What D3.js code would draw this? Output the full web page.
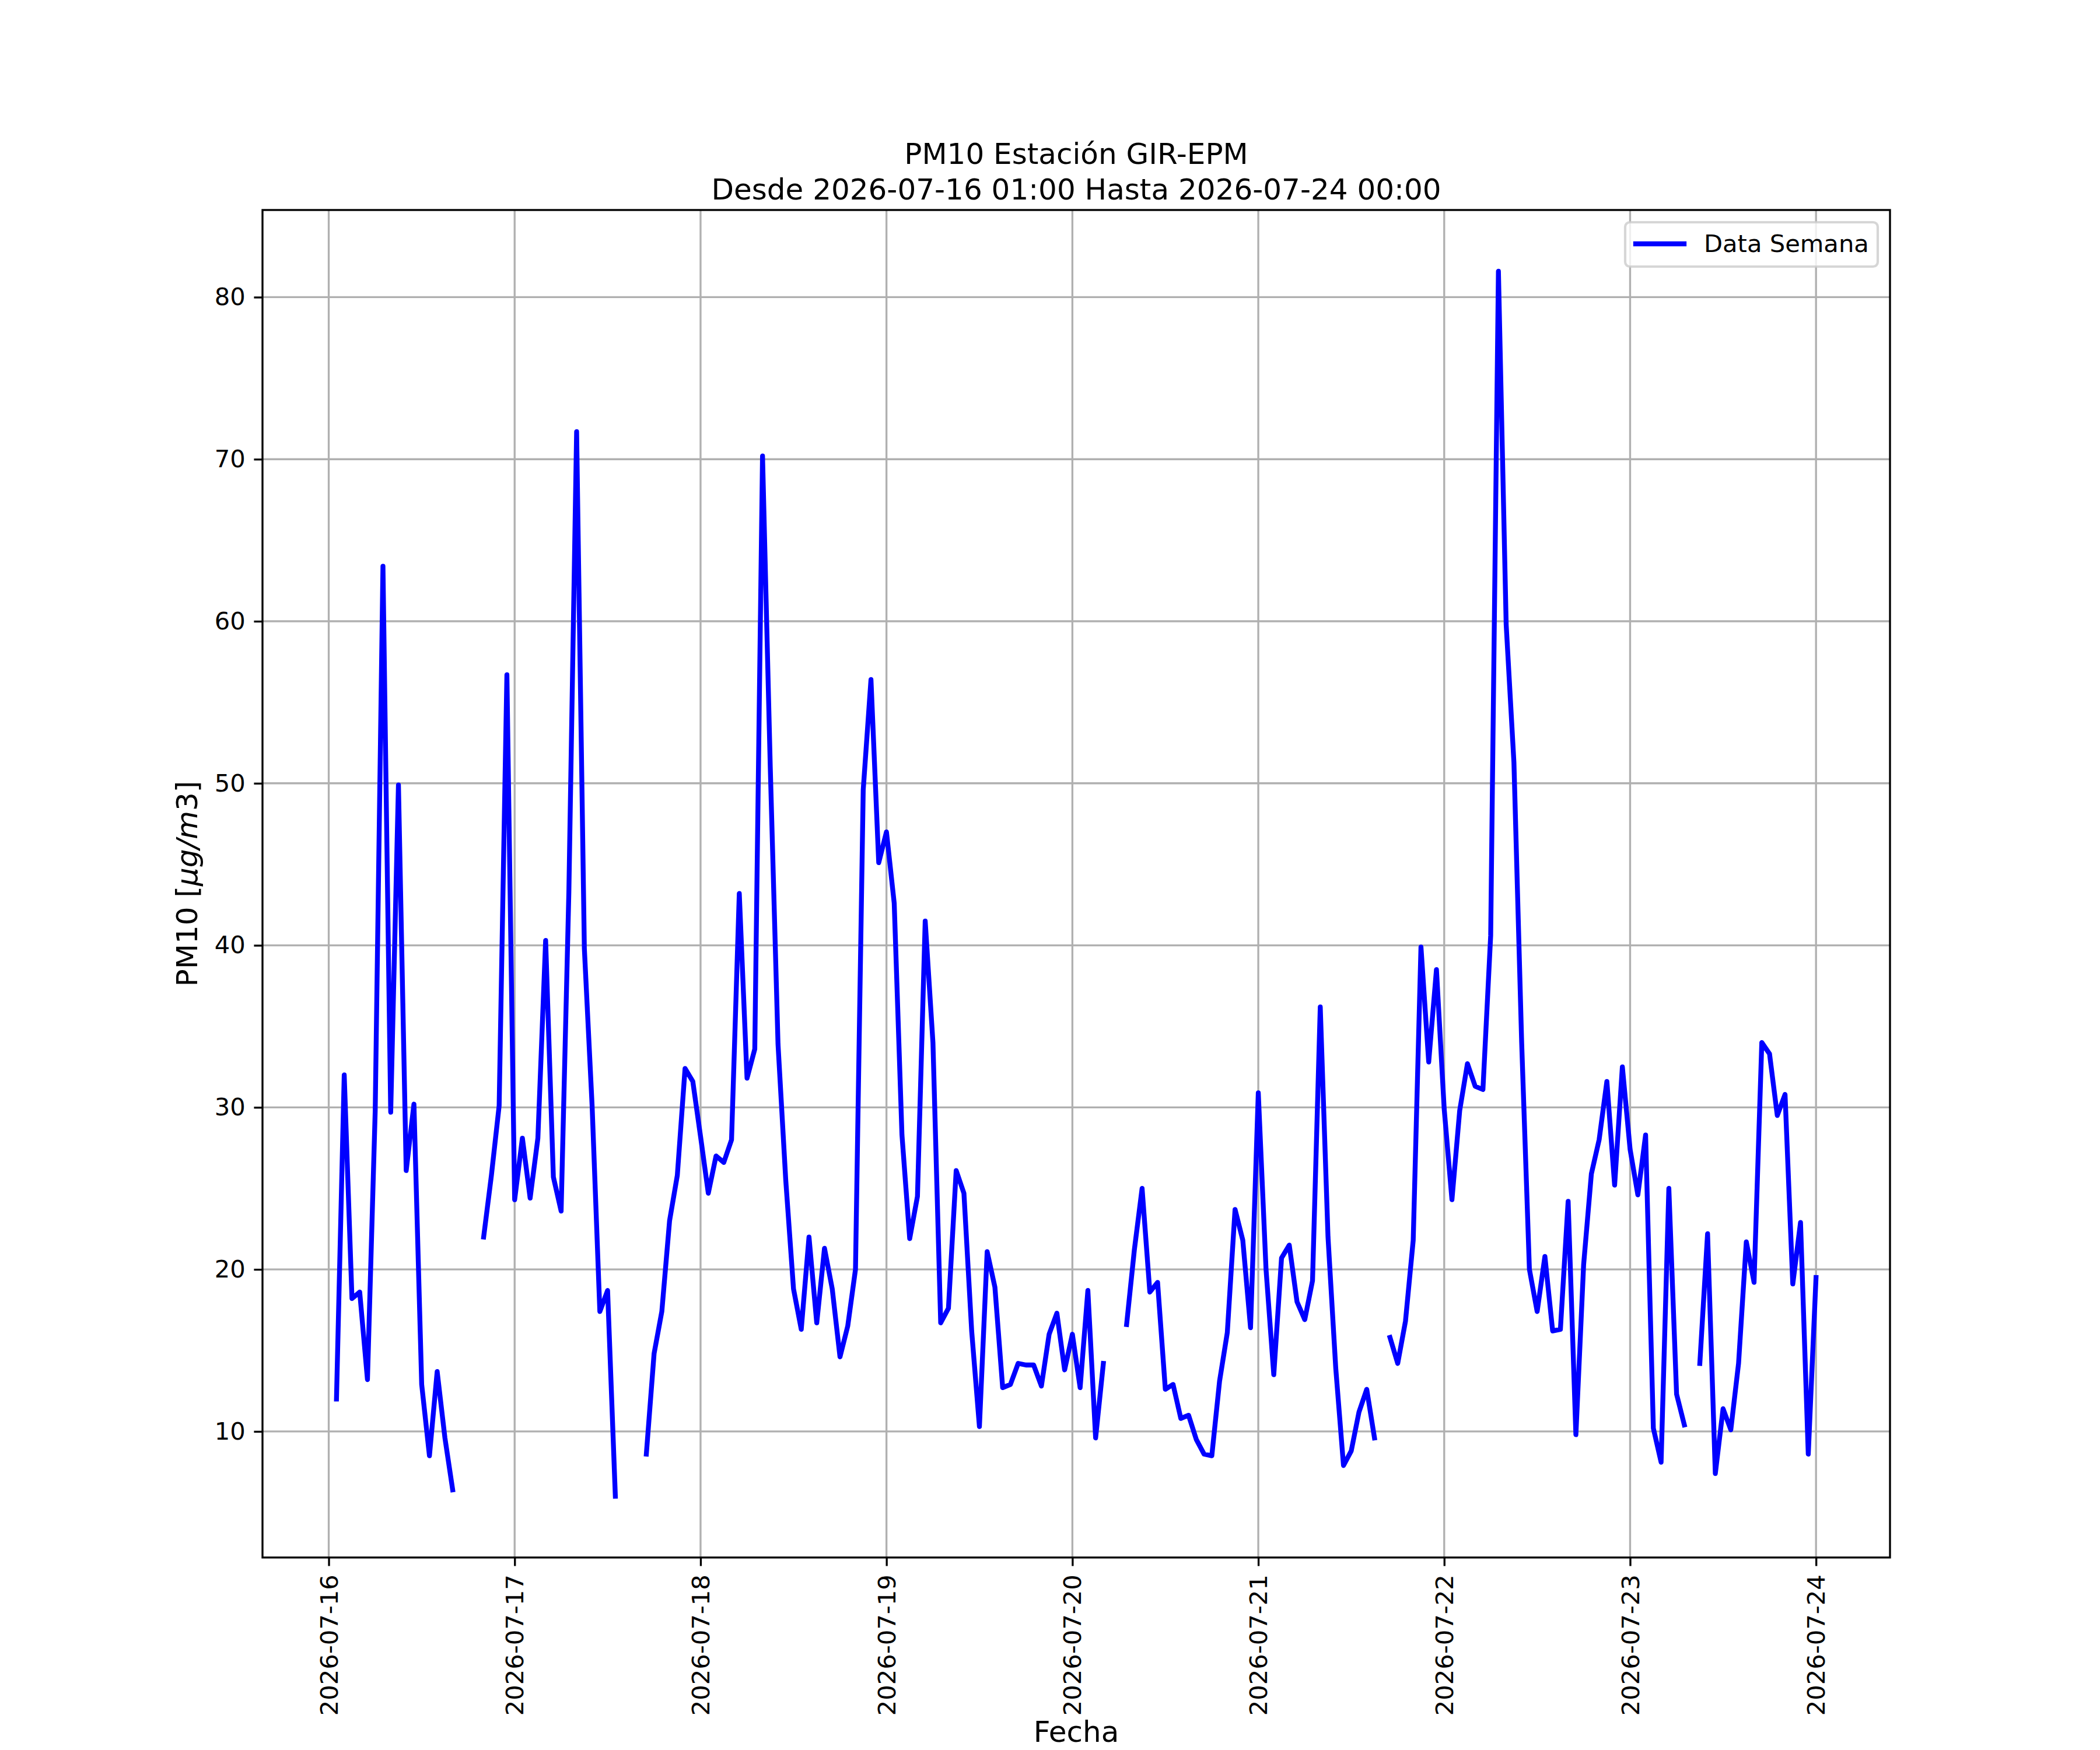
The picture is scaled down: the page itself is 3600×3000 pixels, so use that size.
<!DOCTYPE html>
<html>
<head>
<meta charset="utf-8">
<script src="https://cdn.jsdelivr.net/npm/d3@7"></script>
<style>
  body { margin: 0; background: #fff; }
  text { font-family: "DejaVu Sans", sans-serif; fill: #000; }
</style>
</head>
<body>
<svg class="chart"></svg>
<script>
// hourly PM10 readings, 2026-07-16 01:00 .. 2026-07-24 00:00 (null = no data)
const startTime = Date.UTC(2026, 6, 16, 1)
const endTime = Date.UTC(2026, 6, 24, 0)
const pm10 = [
  12.0, 32.0, 18.2, 18.6, 13.2, 29.8, 63.4, 29.7, 49.9, 26.1, 30.2, 12.9, 8.5, 13.7, 9.6, 6.4,
  null, null, null, 22.0, 25.8, 30.1, 56.7, 24.3,
  28.1, 24.4, 28.1, 40.3, 25.7, 23.6, 43.3, 71.7, 39.8, 30.1, 17.4, 18.7, 6.0,
  null, null, null, 8.6, 14.8, 17.4, 23.0, 25.8, 32.4, 31.6, 28.2,
  24.7, 27.0, 26.6, 28.0, 43.2, 31.8, 33.6, 70.2, 51.0, 33.9, 25.5, 18.8,
  16.3, 22.0, 16.7, 21.3, 18.8, 14.6, 16.5, 20.0, 49.6, 56.4, 45.1, 47.0,
  42.6, 28.3, 21.9, 24.5, 41.5, 34.0, 16.7, 17.6, 26.1, 24.7, 16.2, 10.3,
  21.1, 18.9, 12.7, 12.9, 14.2, 14.1, 14.1, 12.8, 16.0, 17.3, 13.8, 16.0,
  12.7, 18.7, 9.6, 14.2, null, null, 16.6, 21.2, 25.0, 18.6, 19.2, 12.6,
  12.9, 10.8, 11.0, 9.5, 8.6, 8.5, 13.1, 16.1, 23.7, 21.8, 16.4, 30.9,
  20.0, 13.5, 20.7, 21.5, 18.0, 16.9, 19.3, 36.2, 22.0, 13.9, 7.9, 8.8,
  11.2, 12.6, 9.6, null, 15.8, 14.2, 16.8, 21.8, 39.9, 32.8, 38.5, 29.9,
  24.3, 29.8, 32.7, 31.3, 31.1, 40.6, 81.6, 59.8, 51.3, 34.0, 20.0, 17.4,
  20.8, 16.2, 16.3, 24.2, 9.8, 20.3, 25.9, 28.0, 31.6, 25.2, 32.5, 27.4,
  24.6, 28.3, 10.2, 8.1, 25.0, 12.3, 10.4, null, 14.2, 22.2, 7.4, 11.4,
  10.1, 14.2, 21.7, 19.2, 34.0, 33.3, 29.5, 30.8, 19.1, 22.9, 8.6, 19.5
]
const dayTicks = ['2026-07-16', '2026-07-17', '2026-07-18', '2026-07-19', '2026-07-20',
                  '2026-07-21', '2026-07-22', '2026-07-23', '2026-07-24']
const yTicks = [10, 20, 30, 40, 50, 60, 70, 80]
const titleLines = ['PM10 Estación GIR-EPM', 'Desde 2026-07-16 01:00 Hasta 2026-07-24 00:00']
const legendLabel = 'Data Semana'

const times = d3.utcHour.range(startTime, endTime + 1)
const data = times.map((t, i) => ({t: t, v: pm10[i]}))

let width = 3600,
    height = 3000,
    plotL = 450, plotR = 3240, plotT = 360, plotB = 2670,
    pt = 300 / 72

// matplotlib style 5% margins
let xExt = d3.extent(times),
    xPad = (xExt[1] - xExt[0]) * 0.05
let yExt = d3.extent(pm10.filter((v) => v != null)),
    yPad = (yExt[1] - yExt[0]) * 0.05

let x = d3.scaleUtc()
    .domain([new Date(+xExt[0] - xPad), new Date(+xExt[1] + xPad)])
    .range([plotL, plotR])
let y = d3.scaleLinear()
    .domain([yExt[0] - yPad, yExt[1] + yPad])
    .range([plotB, plotT])

let dayDates = dayTicks.map((s) => new Date(s + 'T00:00:00Z'))

let svg = d3.select('.chart')
    .attr('width', width)
    .attr('height', height)

svg.append('rect').attr('width', width).attr('height', height).attr('fill', '#fff')

// grid
let grid = svg.append('g')
grid.selectAll('.vg').data(dayDates)
  .enter().append('line')
    .attr('x1', (d) => x(d)).attr('x2', (d) => x(d))
    .attr('y1', plotT).attr('y2', plotB)
    .attr('stroke', '#b0b0b0').attr('stroke-width', 0.8 * pt)
grid.selectAll('.hg').data(yTicks)
  .enter().append('line')
    .attr('x1', plotL).attr('x2', plotR)
    .attr('y1', (d) => y(d)).attr('y2', (d) => y(d))
    .attr('stroke', '#b0b0b0').attr('stroke-width', 0.8 * pt)

// series
let line = d3.line()
    .defined((d) => d.v != null)
    .x((d) => x(d.t))
    .y((d) => y(d.v))

svg.append('clipPath').attr('id', 'clip')
  .append('rect').attr('x', plotL).attr('y', plotT)
    .attr('width', plotR - plotL).attr('height', plotB - plotT)

svg.append('path')
    .datum(data)
    .attr('clip-path', 'url(#clip)')
    .attr('d', line)
    .attr('fill', 'none')
    .attr('stroke', '#0000ff')
    .attr('stroke-width', 2 * pt)
    .attr('stroke-linejoin', 'round')
    .attr('stroke-linecap', 'square')

// axes
let tickLen = 3.5 * pt,
    tickPad = 3.5 * pt,
    tickFont = 10 * pt

let xAxis = svg.append('g')
    .attr('transform', `translate(0,${plotB})`)
    .call(d3.axisBottom(x)
        .tickValues(dayDates)
        .tickFormat((d, i) => dayTicks[i])
        .tickSize(tickLen)
        .tickSizeOuter(0))
xAxis.selectAll('.tick text')
    .attr('y', 0)
    .attr('x', -(tickLen + tickPad))
    .attr('dy', '0.35em')
    .attr('transform', 'rotate(-90)')
    .style('text-anchor', 'end')

let yAxis = svg.append('g')
    .attr('transform', `translate(${plotL},0)`)
    .call(d3.axisLeft(y)
        .tickValues(yTicks)
        .tickFormat(d3.format('d'))
        .tickSize(tickLen)
        .tickPadding(tickPad)
        .tickSizeOuter(0))

svg.selectAll('.domain').remove()
svg.selectAll('.tick line').attr('stroke', '#000').attr('stroke-width', 0.8 * pt)
svg.selectAll('.tick text')
    .attr('font-family', 'DejaVu Sans')
    .attr('font-size', tickFont)
    .attr('fill', '#000')

// frame
svg.append('rect')
    .attr('x', plotL).attr('y', plotT)
    .attr('width', plotR - plotL).attr('height', plotB - plotT)
    .attr('fill', 'none')
    .attr('stroke', '#000')
    .attr('stroke-width', 0.8 * pt)

// titles and labels
let mid = (plotL + plotR) / 2
svg.selectAll('.title').data(titleLines)
  .enter().append('text')
    .attr('x', mid)
    .attr('y', (d, i) => 281 + i * 61)
    .attr('text-anchor', 'middle')
    .attr('font-size', 12 * pt)
    .text((d) => d)

svg.append('text')
    .attr('x', mid).attr('y', 2986)
    .attr('text-anchor', 'middle')
    .attr('font-size', 12 * pt)
    .text('Fecha')

let yLabel = svg.append('text')
    .attr('transform', `translate(338,${(plotT + plotB) / 2}) rotate(-90)`)
    .attr('text-anchor', 'middle')
    .attr('font-size', 12 * pt)
yLabel.append('tspan').text('PM10 [')
yLabel.append('tspan').attr('font-style', 'italic').text('μg/m')
yLabel.append('tspan').text('3]')

// legend
let lg = svg.append('g')
lg.append('rect')
    .attr('x', 2786).attr('y', 381)
    .attr('width', 433).attr('height', 76)
    .attr('rx', 8).attr('ry', 8)
    .attr('fill', '#fff').attr('fill-opacity', 0.8)
    .attr('stroke', '#cccccc').attr('stroke-opacity', 0.8)
    .attr('stroke-width', 1.0 * pt)
lg.append('line')
    .attr('x1', 2804).attr('x2', 2887)
    .attr('y1', 418).attr('y2', 418)
    .attr('stroke', '#0000ff')
    .attr('stroke-width', 2 * pt)
    .attr('stroke-linecap', 'square')
lg.append('text')
    .attr('x', 2921).attr('y', 432)
    .attr('font-size', 10 * pt)
    .text(legendLabel)
</script>
</body>
</html>
